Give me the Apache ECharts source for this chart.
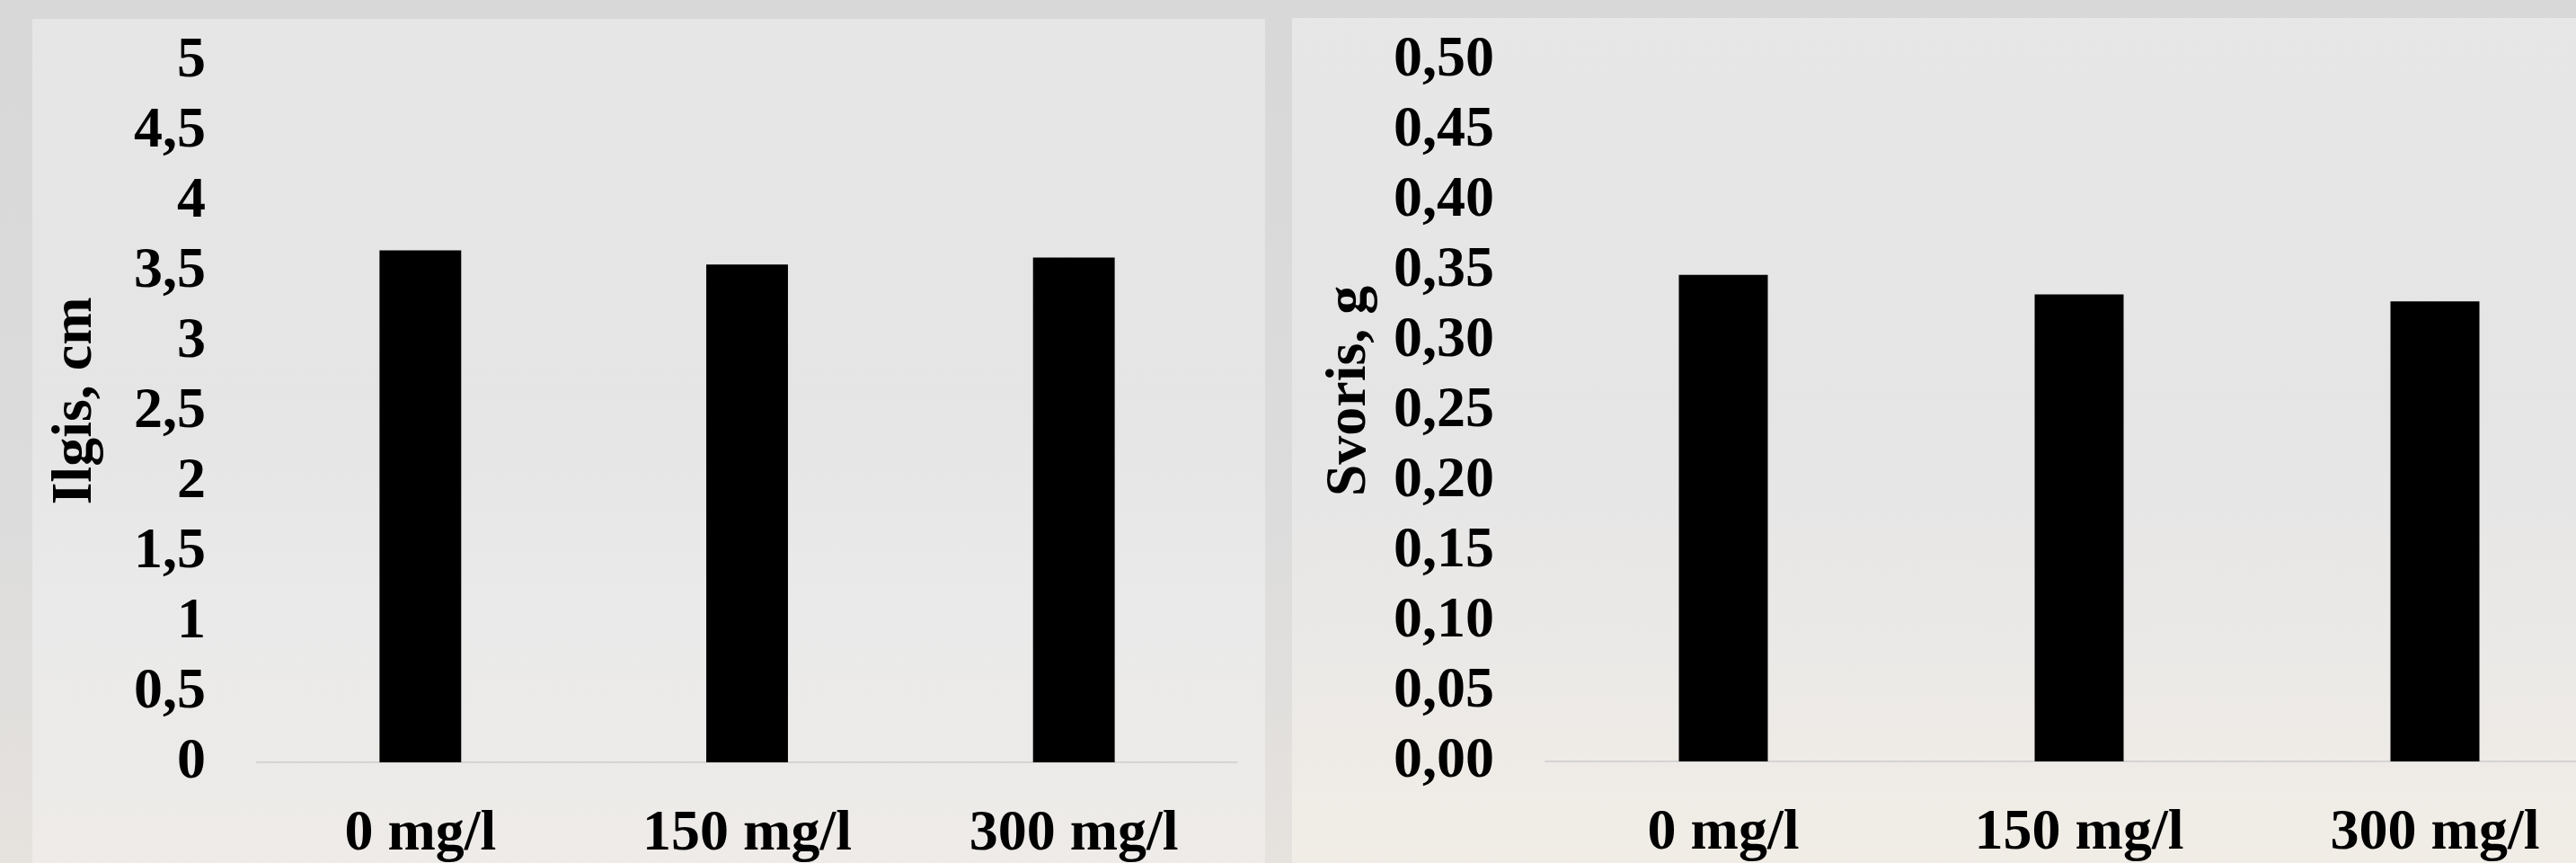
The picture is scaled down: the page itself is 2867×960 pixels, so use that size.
<!DOCTYPE html>
<html>
<head>
<meta charset="utf-8">
<script src="https://cdn.jsdelivr.net/npm/echarts@6/dist/echarts.min.js"></script>
<style>
  html, body { margin: 0; padding: 0; }
  body { width: 2867px; height: 960px; position: relative; overflow: hidden;
         background: linear-gradient(180deg, #d8d8d8 0%, #dcdcdc 60%, #e6e2de 100%); }
  .panel { position: absolute; }
  #pL { left: 36px; top: 21px; width: 1372px; height: 939px;
        background: linear-gradient(180deg, #e6e6e6 0%, #e5e5e6 45%, #eaeaea 70%, #eeebe8 100%); }
  #pR { left: 1438px; top: 20px; width: 1429px; height: 940px;
        background: linear-gradient(180deg, #e7e7e7 0%, #e5e5e6 45%, #ebe9e7 75%, #f1ede6 100%); }
  #chart { position: absolute; left: 0; top: 0; width: 2960px; height: 960px; }
</style>
</head>
<body>
<div class="panel" id="pL"></div>
<div class="panel" id="pR"></div>
<div id="chart"></div>
<script>
const categories = ['0 mg/l', '150 mg/l', '300 mg/l'];
const lengthValues = [3.65, 3.55, 3.60];   // Ilgis, cm
const weightValues = [0.347, 0.333, 0.328]; // Svoris, g
const lengthAxisName = 'Ilgis, cm';
const weightAxisName = 'Svoris, g';

const FONT = "'Liberation Serif', 'Times New Roman', serif";
const baseText = { fontFamily: FONT, fontWeight: 'bold', fontSize: 64, color: '#000' };

const chart = echarts.init(document.getElementById('chart'), null, { renderer: 'canvas' });

function xAxis(gridIndex) {
  return {
    type: 'category', gridIndex, data: categories,
    axisLine: { show: true, lineStyle: { color: '#d4d4d4', width: 2 } },
    axisTick: { show: false },
    axisLabel: Object.assign({ margin: 48, interval: 0 }, baseText),
    splitLine: { show: false }
  };
}

function yAxis(gridIndex, max, interval, decimals, name, nameGap, shift) {
  return {
    type: 'value', gridIndex, min: 0, max, interval,
    name, nameLocation: 'middle', nameGap, nameRotate: 90,
    nameTextStyle: Object.assign({ padding: [0, 0, 0, shift] }, baseText),
    axisLine: { show: false }, axisTick: { show: false },
    splitLine: { show: false },
    axisLabel: Object.assign({
      margin: 57,
      formatter: v => (decimals ? v.toFixed(decimals) : String(+v.toFixed(2))).replace('.', ',')
    }, baseText)
  };
}

chart.setOption({
  backgroundColor: 'transparent',
  animation: false,
  grid: [
    { left: 286, width: 1091, top: 68, bottom: 112 },
    { left: 1720, width: 1188, top: 67, bottom: 113 }
  ],
  xAxis: [xAxis(0), xAxis(1)],
  yAxis: [
    yAxis(0, 5, 0.5, 0, lengthAxisName, 170, 24),
    yAxis(1, 0.5, 0.05, 2, weightAxisName, 186, 44)
  ],
  series: [
    { type: 'bar', xAxisIndex: 0, yAxisIndex: 0, data: lengthValues, barWidth: '25%',
      itemStyle: { color: '#000' } },
    { type: 'bar', xAxisIndex: 1, yAxisIndex: 1, data: weightValues, barWidth: '25%',
      itemStyle: { color: '#000' } }
  ]
});
</script>
</body>
</html>
